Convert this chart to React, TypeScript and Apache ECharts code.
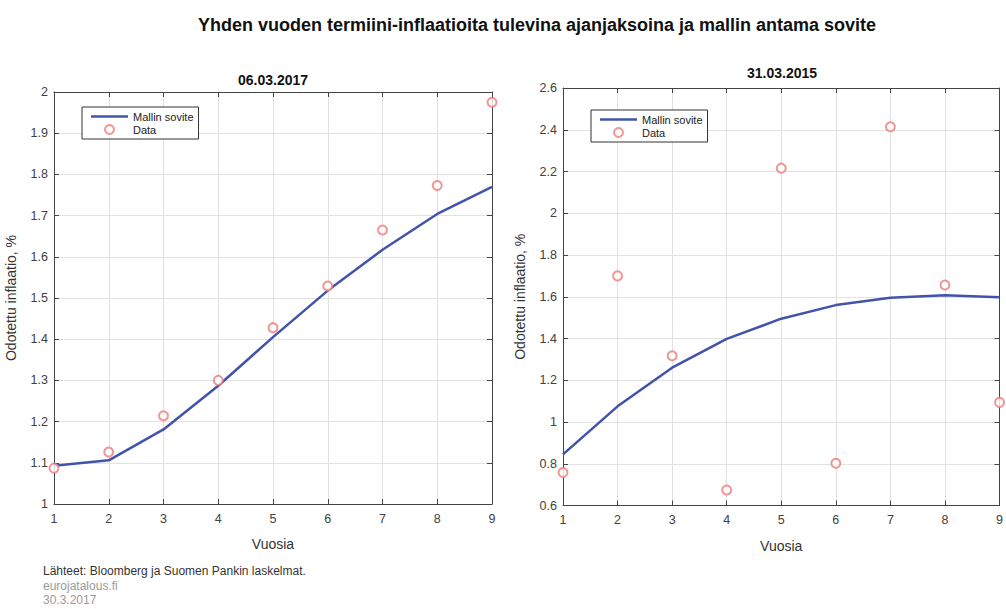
import React, { useEffect, useRef } from "react";
import * as echarts from "echarts";

// ---- data ----
const years = [1, 2, 3, 4, 5, 6, 7, 8, 9];
const fit2017 = [1.093, 1.106, 1.181, 1.287, 1.405, 1.518, 1.617, 1.704, 1.77];
const data2017 = [1.087, 1.126, 1.214, 1.3, 1.428, 1.529, 1.665, 1.773, 1.975];
const fit2015 = [0.845, 1.075, 1.26, 1.398, 1.495, 1.56, 1.595, 1.607, 1.598];
const data2015 = [0.758, 1.7, 1.317, 0.674, 2.216, 0.802, 2.414, 1.656, 1.094];
const xRange = [1, 9, 1]; // min, max, interval
const yRange2017 = [1, 2, 0.1];
const yRange2015 = [0.6, 2.6, 0.2];

const mainTitle = "Yhden vuoden termiini-inflaatioita tulevina ajanjaksoina ja mallin antama sovite";
const subTitles = ["06.03.2017", "31.03.2015"];
const seriesNames = ["Mallin sovite", "Data"];
const xName = "Vuosia";
const yName = "Odotettu inflaatio, %";
const footer = ["Lähteet: Bloomberg ja Suomen Pankin laskelmat.", "eurojatalous.fi", "30.3.2017"];

const FONT = "'Liberation Sans', Arial, Helvetica, sans-serif";
const LINE_COLOR = "#4253ab";
const DOT_COLOR = "#ee7b7b";
const AXIS_COLOR = "#444";

const pairs = (xs: number[], ys: number[]) => xs.map((x, i) => [x, ys[i]]);

function xAxes(gridIndex: number) {
  const base = {
    type: "value",
    gridIndex,
    min: xRange[0],
    max: xRange[1],
    interval: xRange[2],
    axisLine: { show: true, lineStyle: { color: AXIS_COLOR, width: 1 } },
    axisTick: { show: true, inside: true, length: 5, lineStyle: { color: AXIS_COLOR } },
  };
  return [
    {
      ...base,
      position: "bottom",
      name: xName,
      nameLocation: "middle",
      nameGap: 33,
      nameTextStyle: { fontFamily: FONT, fontSize: 14, color: "#333" },
      axisLabel: { fontFamily: FONT, fontSize: 12.5, color: "#404040", margin: 8 },
      splitLine: { show: true, lineStyle: { color: "#e2e2e2", width: 1 } },
    },
    {
      ...base,
      position: "top",
      axisLabel: { show: false },
      splitLine: { show: false },
    },
  ];
}

function yAxes(gridIndex: number, r: number[]) {
  const base = {
    type: "value",
    gridIndex,
    min: r[0],
    max: r[1],
    interval: r[2],
    axisLine: { show: true, lineStyle: { color: AXIS_COLOR, width: 1 } },
    axisTick: { show: true, inside: true, length: 5, lineStyle: { color: AXIS_COLOR } },
  };
  return [
    {
      ...base,
      position: "left",
      name: yName,
      nameLocation: "middle",
      nameGap: 36,
      nameTextStyle: { fontFamily: FONT, fontSize: 14, color: "#333" },
      axisLabel: { fontFamily: FONT, fontSize: 12.5, color: "#404040", margin: 6 },
      splitLine: { show: true, lineStyle: { color: "#e2e2e2", width: 1 } },
    },
    {
      ...base,
      position: "right",
      axisLabel: { show: false },
      splitLine: { show: false },
    },
  ];
}

function legend(left: number, top: number) {
  return {
    orient: "vertical",
    left,
    top,
    padding: [4, 5, 4, 9],
    itemGap: 2,
    itemWidth: 37,
    itemHeight: 9,
    backgroundColor: "#fff",
    borderColor: "#333",
    borderWidth: 1,
    textStyle: { fontFamily: FONT, fontSize: 11, color: "#222" },
    data: [
      { name: seriesNames[0], icon: "path://M0,0 H148 V10 H0 Z", itemStyle: { color: LINE_COLOR } },
      { name: seriesNames[1] },
    ],
  };
}

function seriesFor(xi: number, yi: number, fit: number[], dat: number[]) {
  return [
    {
      name: seriesNames[0],
      type: "line",
      xAxisIndex: xi,
      yAxisIndex: yi,
      data: pairs(years, fit),
      symbol: "none",
      lineStyle: { color: LINE_COLOR, width: 2.5 },
      itemStyle: { color: LINE_COLOR },
      z: 3,
    },
    {
      name: seriesNames[1],
      type: "scatter",
      xAxisIndex: xi,
      yAxisIndex: yi,
      data: pairs(years, dat),
      symbol: "emptyCircle",
      symbolSize: 9,
      clip: false,
      itemStyle: { color: DOT_COLOR, borderColor: DOT_COLOR, borderWidth: 1.6 },
      z: 4,
    },
  ];
}

function textEl(x: number, y: number, text: string, font: string, fill: string, align = "center") {
  return {
    type: "text",
    x,
    y,
    style: {
      text,
      align,
      verticalAlign: "middle",
      textAlign: align,
      textVerticalAlign: "middle",
      font,
      fill,
    },
  };
}

export default function App() {
  const ref = useRef<HTMLDivElement>(null);
  useEffect(() => {
    if (!ref.current) return;
    const chart = echarts.init(ref.current, undefined, { renderer: "svg" });
    const option = {
      animation: false,
      backgroundColor: "#fff",
      grid: [
        { left: 54, top: 92, width: 438, height: 412 },
        { left: 563, top: 88, width: 439, height: 417.5 },
      ],
      xAxis: [...xAxes(0), ...xAxes(1)],
      yAxis: [...yAxes(0, yRange2017), ...yAxes(1, yRange2015)],
      legend: [legend(82, 107), legend(591, 110)],
      series: [...seriesFor(0, 0, fit2017, data2017), ...seriesFor(2, 2, fit2015, data2015)],
      graphic: [
        textEl(537, 25, mainTitle, `bold 18px ${FONT}`, "#111"),
        textEl(273, 80, subTitles[0], `bold 14px ${FONT}`, "#111"),
        textEl(782, 73, subTitles[1], `bold 14px ${FONT}`, "#111"),
        ...footer.map((t, i) =>
          textEl(43, 571 + i * 14.5, t, `12px ${FONT}`, i === 0 ? "#333" : "#9a9a9a", "left")
        ),
      ],
    };
    chart.setOption(option as any);
    return () => chart.dispose();
  }, []);
  return (
    <div
      ref={ref}
      style={{ position: "fixed", left: 0, top: 0, width: 1006, height: 609, background: "#fff" }}
    />
  );
}
